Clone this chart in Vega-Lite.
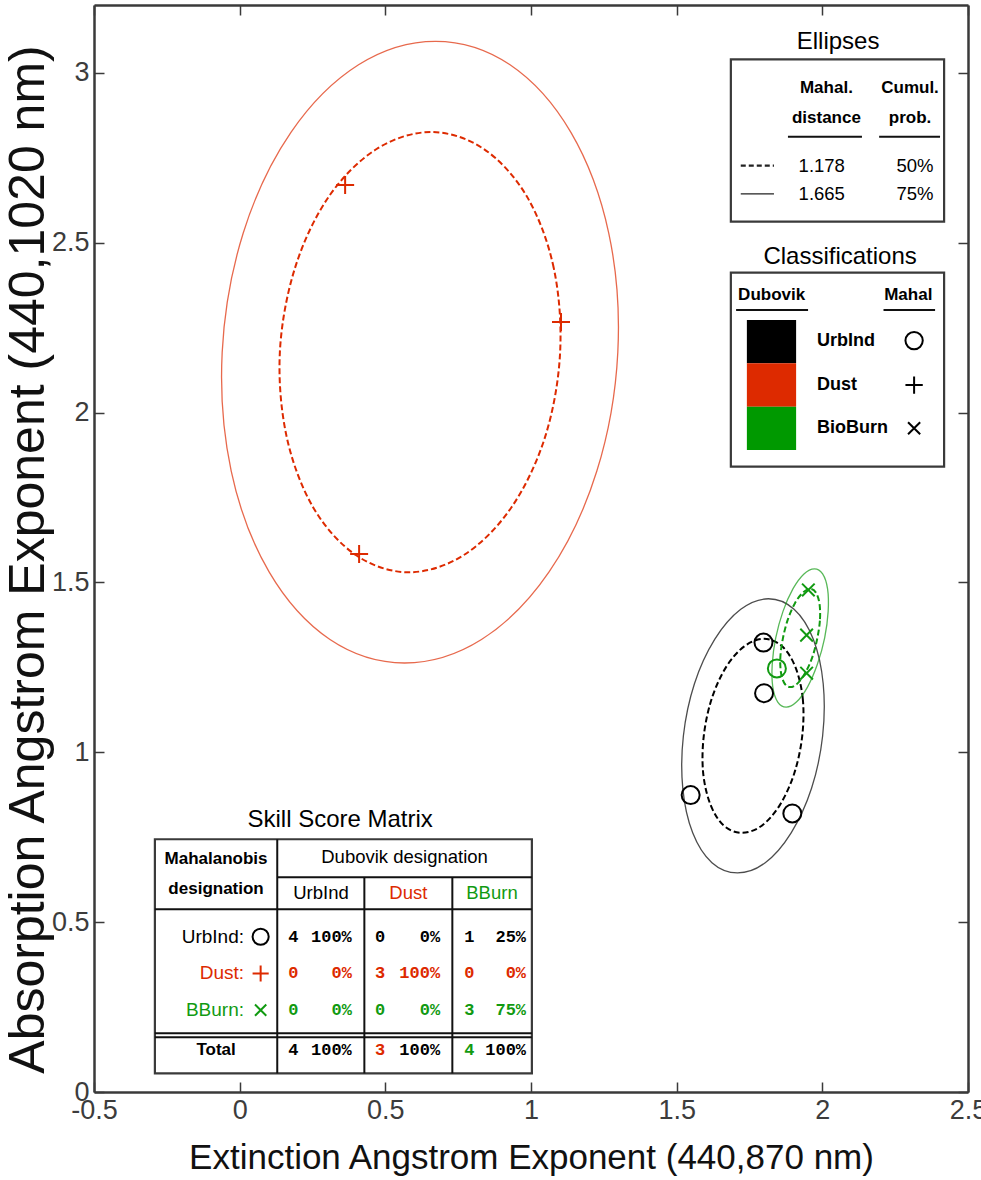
{
  "$schema": "https://vega.github.io/schema/vega-lite/v6.json",
  "width": 874,
  "height": 1087,
  "autosize": {"type": "none"},
  "padding": {"left": 94, "top": 5, "right": 13, "bottom": 88},
  "background": "white",
  "config": {
    "view": {"stroke": null},
    "font": "Liberation Sans",
    "axis": {
      "grid": false,
      "domainColor": "#3a3a3a",
      "domainWidth": 2.5,
      "tickColor": "#3a3a3a",
      "tickWidth": 1.5,
      "tickSize": -10,
      "labelFont": "Liberation Sans",
      "labelFontSize": 27,
      "labelColor": "#3c3c3c",
      "labelPadding": 15,
      "labelFlush": false,
      "labelOverlap": false,
      "titleColor": "#111111",
      "titleFontWeight": "normal"
    }
  },
  "datasets": {
    "ellipses": [
      {"cls": "Dust", "level": "50%", "k": 0, "ext": 1.100, "abs": 2.178},
      {"cls": "Dust", "level": "50%", "k": 1, "ext": 1.078, "abs": 2.426},
      {"cls": "Dust", "level": "50%", "k": 2, "ext": 0.986, "abs": 2.636},
      {"cls": "Dust", "level": "50%", "k": 3, "ext": 0.838, "abs": 2.776},
      {"cls": "Dust", "level": "50%", "k": 4, "ext": 0.657, "abs": 2.826},
      {"cls": "Dust", "level": "50%", "k": 5, "ext": 0.470, "abs": 2.776},
      {"cls": "Dust", "level": "50%", "k": 6, "ext": 0.306, "abs": 2.636},
      {"cls": "Dust", "level": "50%", "k": 7, "ext": 0.190, "abs": 2.426},
      {"cls": "Dust", "level": "50%", "k": 8, "ext": 0.138, "abs": 2.178},
      {"cls": "Dust", "level": "50%", "k": 9, "ext": 0.161, "abs": 1.930},
      {"cls": "Dust", "level": "50%", "k": 10, "ext": 0.253, "abs": 1.720},
      {"cls": "Dust", "level": "50%", "k": 11, "ext": 0.400, "abs": 1.580},
      {"cls": "Dust", "level": "50%", "k": 12, "ext": 0.581, "abs": 1.530},
      {"cls": "Dust", "level": "50%", "k": 13, "ext": 0.768, "abs": 1.580},
      {"cls": "Dust", "level": "50%", "k": 14, "ext": 0.932, "abs": 1.720},
      {"cls": "Dust", "level": "50%", "k": 15, "ext": 1.049, "abs": 1.930},
      {"cls": "Dust", "level": "75%", "k": 0, "ext": 1.298, "abs": 2.178},
      {"cls": "Dust", "level": "75%", "k": 1, "ext": 1.267, "abs": 2.528},
      {"cls": "Dust", "level": "75%", "k": 2, "ext": 1.137, "abs": 2.825},
      {"cls": "Dust", "level": "75%", "k": 3, "ext": 0.928, "abs": 3.024},
      {"cls": "Dust", "level": "75%", "k": 4, "ext": 0.672, "abs": 3.093},
      {"cls": "Dust", "level": "75%", "k": 5, "ext": 0.408, "abs": 3.024},
      {"cls": "Dust", "level": "75%", "k": 6, "ext": 0.176, "abs": 2.825},
      {"cls": "Dust", "level": "75%", "k": 7, "ext": 0.012, "abs": 2.528},
      {"cls": "Dust", "level": "75%", "k": 8, "ext": -0.060, "abs": 2.178},
      {"cls": "Dust", "level": "75%", "k": 9, "ext": -0.029, "abs": 1.828},
      {"cls": "Dust", "level": "75%", "k": 10, "ext": 0.101, "abs": 1.531},
      {"cls": "Dust", "level": "75%", "k": 11, "ext": 0.310, "abs": 1.332},
      {"cls": "Dust", "level": "75%", "k": 12, "ext": 0.566, "abs": 1.263},
      {"cls": "Dust", "level": "75%", "k": 13, "ext": 0.830, "abs": 1.332},
      {"cls": "Dust", "level": "75%", "k": 14, "ext": 1.062, "abs": 1.531},
      {"cls": "Dust", "level": "75%", "k": 15, "ext": 1.226, "abs": 1.828},
      {"cls": "UrbInd", "level": "50%", "k": 0, "ext": 1.931, "abs": 1.048},
      {"cls": "UrbInd", "level": "50%", "k": 1, "ext": 1.933, "abs": 1.157},
      {"cls": "UrbInd", "level": "50%", "k": 2, "ext": 1.908, "abs": 1.250},
      {"cls": "UrbInd", "level": "50%", "k": 3, "ext": 1.862, "abs": 1.312},
      {"cls": "UrbInd", "level": "50%", "k": 4, "ext": 1.800, "abs": 1.334},
      {"cls": "UrbInd", "level": "50%", "k": 5, "ext": 1.732, "abs": 1.312},
      {"cls": "UrbInd", "level": "50%", "k": 6, "ext": 1.669, "abs": 1.250},
      {"cls": "UrbInd", "level": "50%", "k": 7, "ext": 1.620, "abs": 1.157},
      {"cls": "UrbInd", "level": "50%", "k": 8, "ext": 1.593, "abs": 1.048},
      {"cls": "UrbInd", "level": "50%", "k": 9, "ext": 1.591, "abs": 0.939},
      {"cls": "UrbInd", "level": "50%", "k": 10, "ext": 1.616, "abs": 0.846},
      {"cls": "UrbInd", "level": "50%", "k": 11, "ext": 1.662, "abs": 0.784},
      {"cls": "UrbInd", "level": "50%", "k": 12, "ext": 1.724, "abs": 0.763},
      {"cls": "UrbInd", "level": "50%", "k": 13, "ext": 1.792, "abs": 0.784},
      {"cls": "UrbInd", "level": "50%", "k": 14, "ext": 1.855, "abs": 0.846},
      {"cls": "UrbInd", "level": "50%", "k": 15, "ext": 1.904, "abs": 0.939},
      {"cls": "UrbInd", "level": "75%", "k": 0, "ext": 2.001, "abs": 1.048},
      {"cls": "UrbInd", "level": "75%", "k": 1, "ext": 2.003, "abs": 1.202},
      {"cls": "UrbInd", "level": "75%", "k": 2, "ext": 1.969, "abs": 1.333},
      {"cls": "UrbInd", "level": "75%", "k": 3, "ext": 1.903, "abs": 1.421},
      {"cls": "UrbInd", "level": "75%", "k": 4, "ext": 1.815, "abs": 1.452},
      {"cls": "UrbInd", "level": "75%", "k": 5, "ext": 1.720, "abs": 1.421},
      {"cls": "UrbInd", "level": "75%", "k": 6, "ext": 1.631, "abs": 1.333},
      {"cls": "UrbInd", "level": "75%", "k": 7, "ext": 1.561, "abs": 1.202},
      {"cls": "UrbInd", "level": "75%", "k": 8, "ext": 1.523, "abs": 1.048},
      {"cls": "UrbInd", "level": "75%", "k": 9, "ext": 1.521, "abs": 0.894},
      {"cls": "UrbInd", "level": "75%", "k": 10, "ext": 1.555, "abs": 0.763},
      {"cls": "UrbInd", "level": "75%", "k": 11, "ext": 1.621, "abs": 0.675},
      {"cls": "UrbInd", "level": "75%", "k": 12, "ext": 1.709, "abs": 0.645},
      {"cls": "UrbInd", "level": "75%", "k": 13, "ext": 1.804, "abs": 0.675},
      {"cls": "UrbInd", "level": "75%", "k": 14, "ext": 1.893, "abs": 0.763},
      {"cls": "UrbInd", "level": "75%", "k": 15, "ext": 1.963, "abs": 0.894},
      {"cls": "BBurn", "level": "50%", "k": 0, "ext": 1.983, "abs": 1.337},
      {"cls": "BBurn", "level": "50%", "k": 1, "ext": 1.992, "abs": 1.392},
      {"cls": "BBurn", "level": "50%", "k": 2, "ext": 1.990, "abs": 1.439},
      {"cls": "BBurn", "level": "50%", "k": 3, "ext": 1.978, "abs": 1.470},
      {"cls": "BBurn", "level": "50%", "k": 4, "ext": 1.958, "abs": 1.481},
      {"cls": "BBurn", "level": "50%", "k": 5, "ext": 1.933, "abs": 1.470},
      {"cls": "BBurn", "level": "50%", "k": 6, "ext": 1.906, "abs": 1.439},
      {"cls": "BBurn", "level": "50%", "k": 7, "ext": 1.882, "abs": 1.392},
      {"cls": "BBurn", "level": "50%", "k": 8, "ext": 1.865, "abs": 1.337},
      {"cls": "BBurn", "level": "50%", "k": 9, "ext": 1.856, "abs": 1.281},
      {"cls": "BBurn", "level": "50%", "k": 10, "ext": 1.858, "abs": 1.235},
      {"cls": "BBurn", "level": "50%", "k": 11, "ext": 1.870, "abs": 1.203},
      {"cls": "BBurn", "level": "50%", "k": 12, "ext": 1.890, "abs": 1.192},
      {"cls": "BBurn", "level": "50%", "k": 13, "ext": 1.915, "abs": 1.203},
      {"cls": "BBurn", "level": "50%", "k": 14, "ext": 1.942, "abs": 1.235},
      {"cls": "BBurn", "level": "50%", "k": 15, "ext": 1.966, "abs": 1.281},
      {"cls": "BBurn", "level": "75%", "k": 0, "ext": 2.008, "abs": 1.337},
      {"cls": "BBurn", "level": "75%", "k": 1, "ext": 2.020, "abs": 1.415},
      {"cls": "BBurn", "level": "75%", "k": 2, "ext": 2.018, "abs": 1.481},
      {"cls": "BBurn", "level": "75%", "k": 3, "ext": 2.001, "abs": 1.525},
      {"cls": "BBurn", "level": "75%", "k": 4, "ext": 1.973, "abs": 1.540},
      {"cls": "BBurn", "level": "75%", "k": 5, "ext": 1.937, "abs": 1.525},
      {"cls": "BBurn", "level": "75%", "k": 6, "ext": 1.899, "abs": 1.481},
      {"cls": "BBurn", "level": "75%", "k": 7, "ext": 1.865, "abs": 1.415},
      {"cls": "BBurn", "level": "75%", "k": 8, "ext": 1.840, "abs": 1.337},
      {"cls": "BBurn", "level": "75%", "k": 9, "ext": 1.828, "abs": 1.259},
      {"cls": "BBurn", "level": "75%", "k": 10, "ext": 1.830, "abs": 1.192},
      {"cls": "BBurn", "level": "75%", "k": 11, "ext": 1.847, "abs": 1.148},
      {"cls": "BBurn", "level": "75%", "k": 12, "ext": 1.876, "abs": 1.133},
      {"cls": "BBurn", "level": "75%", "k": 13, "ext": 1.911, "abs": 1.148},
      {"cls": "BBurn", "level": "75%", "k": 14, "ext": 1.949, "abs": 1.192},
      {"cls": "BBurn", "level": "75%", "k": 15, "ext": 1.983, "abs": 1.259}
    ],
    "points": [
      {"ext": 0.362, "abs": 2.670, "mahal": "Dust", "cls": "Dust"},
      {"ext": 1.103, "abs": 2.267, "mahal": "Dust", "cls": "Dust"},
      {"ext": 0.410, "abs": 1.584, "mahal": "Dust", "cls": "Dust"},
      {"ext": 1.798, "abs": 1.323, "mahal": "UrbInd", "cls": "UrbInd"},
      {"ext": 1.800, "abs": 1.174, "mahal": "UrbInd", "cls": "UrbInd"},
      {"ext": 1.548, "abs": 0.874, "mahal": "UrbInd", "cls": "UrbInd"},
      {"ext": 1.897, "abs": 0.820, "mahal": "UrbInd", "cls": "UrbInd"},
      {"ext": 1.844, "abs": 1.247, "mahal": "UrbInd", "cls": "BBurn"},
      {"ext": 1.952, "abs": 1.478, "mahal": "BBurn", "cls": "BBurn"},
      {"ext": 1.946, "abs": 1.345, "mahal": "BBurn", "cls": "BBurn"},
      {"ext": 1.946, "abs": 1.233, "mahal": "BBurn", "cls": "BBurn"}
    ],
    "boxes": [
      {"name": "Ellipses", "x": 1.686, "x2": 2.418, "y": 3.040, "y2": 2.562},
      {"name": "Classifications", "x": 1.686, "x2": 2.418, "y": 2.412, "y2": 1.841},
      {"name": "Skill Score Matrix", "x": -0.291, "x2": 1.003, "y": 0.744, "y2": 0.055}
    ],
    "swatches": [
      {"cls": "UrbInd", "x": 1.741, "x2": 1.910, "y": 2.273, "y2": 2.145},
      {"cls": "Dust", "x": 1.741, "x2": 1.910, "y": 2.145, "y2": 2.017},
      {"cls": "BBurn", "x": 1.741, "x2": 1.910, "y": 2.017, "y2": 1.890}
    ],
    "lines": [
      {"x": 1.882, "x2": 2.136, "y": 2.812, "y2": 2.812},
      {"x": 2.195, "x2": 2.404, "y": 2.812, "y2": 2.812},
      {"x": 1.704, "x2": 1.951, "y": 2.302, "y2": 2.302},
      {"x": 2.210, "x2": 2.387, "y": 2.302, "y2": 2.302},
      {"x": 0.129, "x2": 0.129, "y": 0.744, "y2": 0.055},
      {"x": 0.129, "x2": 1.003, "y": 0.632, "y2": 0.632},
      {"x": 0.428, "x2": 0.428, "y": 0.632, "y2": 0.055},
      {"x": 0.730, "x2": 0.730, "y": 0.632, "y2": 0.055},
      {"x": -0.291, "x2": 1.003, "y": 0.538, "y2": 0.538},
      {"x": -0.291, "x2": 1.003, "y": 0.173, "y2": 0.173},
      {"x": -0.291, "x2": 1.003, "y": 0.161, "y2": 0.161}
    ],
    "samples": [
      {"level": "50%", "x": 1.720, "x2": 1.834, "y": 2.727},
      {"level": "75%", "x": 1.720, "x2": 1.834, "y": 2.644}
    ],
    "labels": [
      {"role": "title", "text": "Ellipses", "x": 2.054, "y": 3.092, "cls": "ink"},
      {"role": "title", "text": "Classifications", "x": 2.061, "y": 2.459, "cls": "ink"},
      {"role": "title", "text": "Skill Score Matrix", "x": 0.345, "y": 0.801, "cls": "ink"},
      {"role": "head", "text": "Mahal.", "x": 2.014, "y": 2.955, "cls": "ink"},
      {"role": "head", "text": "distance", "x": 2.014, "y": 2.866, "cls": "ink"},
      {"role": "head", "text": "Cumul.", "x": 2.301, "y": 2.955, "cls": "ink"},
      {"role": "head", "text": "prob.", "x": 2.301, "y": 2.866, "cls": "ink"},
      {"role": "head", "text": "Dubovik", "x": 1.826, "y": 2.346, "cls": "ink"},
      {"role": "head", "text": "Mahal", "x": 2.295, "y": 2.346, "cls": "ink"},
      {"role": "head", "text": "Mahalanobis", "x": -0.081, "y": 0.685, "cls": "ink"},
      {"role": "head", "text": "designation", "x": -0.081, "y": 0.597, "cls": "ink"},
      {"role": "head", "text": "Total", "x": -0.081, "y": 0.124, "cls": "ink"},
      {"role": "plain", "text": "Dubovik designation", "x": 0.566, "y": 0.691, "cls": "ink"},
      {"role": "plain", "text": "UrbInd", "x": 0.279, "y": 0.585, "cls": "UrbInd"},
      {"role": "plain", "text": "Dust", "x": 0.579, "y": 0.585, "cls": "Dust"},
      {"role": "plain", "text": "BBurn", "x": 0.866, "y": 0.585, "cls": "BBurn"},
      {"role": "plain", "text": "1.178", "x": 1.998, "y": 2.727, "cls": "ink"},
      {"role": "plain", "text": "50%", "x": 2.318, "y": 2.727, "cls": "ink"},
      {"role": "plain", "text": "1.665", "x": 1.998, "y": 2.644, "cls": "ink"},
      {"role": "plain", "text": "75%", "x": 2.318, "y": 2.644, "cls": "ink"},
      {"role": "class", "text": "UrbInd", "x": 1.982, "y": 2.212, "cls": "ink"},
      {"role": "class", "text": "Dust", "x": 1.982, "y": 2.081, "cls": "ink"},
      {"role": "class", "text": "BioBurn", "x": 1.982, "y": 1.954, "cls": "ink"},
      {"role": "row", "text": "UrbInd:", "x": 0.015, "y": 0.457, "cls": "UrbInd"},
      {"role": "row", "text": "Dust:", "x": 0.015, "y": 0.349, "cls": "Dust"},
      {"role": "row", "text": "BBurn:", "x": 0.015, "y": 0.241, "cls": "BBurn"}
    ],
    "cells": [
      {"count": "4", "pct": "100%", "cx": 0.184, "px": 0.385, "y": 0.457, "cls": "UrbInd", "pcls": "UrbInd"},
      {"count": "0", "pct": "0%", "cx": 0.482, "px": 0.688, "y": 0.457, "cls": "UrbInd", "pcls": "UrbInd"},
      {"count": "1", "pct": "25%", "cx": 0.788, "px": 0.983, "y": 0.457, "cls": "UrbInd", "pcls": "UrbInd"},
      {"count": "0", "pct": "0%", "cx": 0.184, "px": 0.385, "y": 0.349, "cls": "Dust", "pcls": "Dust"},
      {"count": "3", "pct": "100%", "cx": 0.482, "px": 0.688, "y": 0.349, "cls": "Dust", "pcls": "Dust"},
      {"count": "0", "pct": "0%", "cx": 0.788, "px": 0.983, "y": 0.349, "cls": "Dust", "pcls": "Dust"},
      {"count": "0", "pct": "0%", "cx": 0.184, "px": 0.385, "y": 0.241, "cls": "BBurn", "pcls": "BBurn"},
      {"count": "0", "pct": "0%", "cx": 0.482, "px": 0.688, "y": 0.241, "cls": "BBurn", "pcls": "BBurn"},
      {"count": "3", "pct": "75%", "cx": 0.788, "px": 0.983, "y": 0.241, "cls": "BBurn", "pcls": "BBurn"},
      {"count": "4", "pct": "100%", "cx": 0.184, "px": 0.385, "y": 0.124, "cls": "UrbInd", "pcls": "ink"},
      {"count": "3", "pct": "100%", "cx": 0.482, "px": 0.688, "y": 0.124, "cls": "Dust", "pcls": "ink"},
      {"count": "4", "pct": "100%", "cx": 0.788, "px": 0.983, "y": 0.124, "cls": "BBurn", "pcls": "ink"}
    ],
    "keys": [
      {"where": "legend", "x": 2.315, "y": 2.212, "mahal": "UrbInd", "cls": "ink"},
      {"where": "legend", "x": 2.315, "y": 2.081, "mahal": "Dust", "cls": "ink"},
      {"where": "legend", "x": 2.315, "y": 1.954, "mahal": "BBurn", "cls": "ink"},
      {"where": "table", "x": 0.072, "y": 0.457, "mahal": "UrbInd", "cls": "UrbInd"},
      {"where": "table", "x": 0.072, "y": 0.349, "mahal": "Dust", "cls": "Dust"},
      {"where": "table", "x": 0.072, "y": 0.241, "mahal": "BBurn", "cls": "BBurn"}
    ]
  },
  "resolve": {"axis": {"x": "independent", "y": "independent"}},
  "layer": [
    {
      "data": {"name": "ellipses"},
      "transform": [{"filter": "datum.level === '50%'"}],
      "mark": {"type": "line", "interpolate": "cardinal-closed", "strokeWidth": 2, "strokeDash": [6, 3]},
      "encoding": {
        "x": {
          "field": "ext", "type": "quantitative",
          "scale": {"domain": [-0.5, 2.5], "nice": false, "zero": false},
          "axis": {
            "orient": "bottom",
            "values": [-0.5, 0, 0.5, 1, 1.5, 2, 2.5],
            "labelExpr": "'' + datum.value",
            "title": "Extinction Angstrom Exponent (440,870 nm)",
            "titleFont": "Liberation Sans",
            "titleFontSize": 35,
            "titleY": 65,
            "titleBaseline": "middle"
          }
        },
        "y": {
          "field": "abs", "type": "quantitative",
          "scale": {"domain": [0, 3.2], "nice": false, "zero": false},
          "axis": {
            "orient": "left",
            "values": [0, 0.5, 1, 1.5, 2, 2.5, 3],
            "labelExpr": "'' + datum.value",
            "title": "Absorption Angstrom Exponent (440,1020 nm)",
            "titleFont": "Liberation Sans",
            "titleFontSize": 50,
            "titleX": -66,
            "titleY": 554,
            "titleAngle": -90,
            "titleBaseline": "middle"
          }
        },
        "detail": {"field": "cls"},
        "order": {"field": "k", "type": "quantitative"},
        "color": {
          "field": "cls", "type": "nominal",
          "scale": {"domain": ["UrbInd", "Dust", "BBurn", "ink"], "range": ["#000000", "#dd2a00", "#119a11", "#000000"]},
          "legend": null
        }
      }
    },
    {
      "data": {"name": "ellipses"},
      "transform": [{"filter": "datum.level === '75%'"}],
      "mark": {"type": "line", "interpolate": "cardinal-closed", "strokeWidth": 1.3, "opacity": 0.7},
      "encoding": {
        "x": {"field": "ext", "type": "quantitative", "axis": null},
        "y": {"field": "abs", "type": "quantitative", "axis": null},
        "detail": {"field": "cls"},
        "order": {"field": "k", "type": "quantitative"},
        "color": {"field": "cls", "type": "nominal", "legend": null}
      }
    },
    {
      "data": {"name": "points"},
      "mark": {"type": "point", "filled": false, "strokeWidth": 2, "size": 324, "opacity": 1},
      "encoding": {
        "x": {"field": "ext", "type": "quantitative", "axis": {"orient": "top", "values": [-0.5, 0, 0.5, 1, 1.5, 2, 2.5], "labels": false, "title": null}},
        "y": {"field": "abs", "type": "quantitative", "axis": {"orient": "right", "values": [0, 0.5, 1, 1.5, 2, 2.5, 3], "labels": false, "title": null}},
        "shape": {
          "field": "mahal", "type": "nominal",
          "scale": {"domain": ["UrbInd", "Dust", "BBurn"], "range": ["circle", "M-1,0L1,0M0,-1L0,1", "M-0.7,-0.7L0.7,0.7M-0.7,0.7L0.7,-0.7"]},
          "legend": null
        },
        "color": {"field": "cls", "type": "nominal", "legend": null}
      }
    },
    {
      "data": {"name": "boxes"},
      "mark": {"type": "rect", "fill": "white", "stroke": "#3a3a3a", "strokeWidth": 2.2},
      "encoding": {
        "x": {"field": "x", "type": "quantitative", "axis": null},
        "x2": {"field": "x2"},
        "y": {"field": "y", "type": "quantitative", "axis": null},
        "y2": {"field": "y2"}
      }
    },
    {
      "data": {"name": "swatches"},
      "mark": {"type": "rect"},
      "encoding": {
        "x": {"field": "x", "type": "quantitative", "axis": null},
        "x2": {"field": "x2"},
        "y": {"field": "y", "type": "quantitative", "axis": null},
        "y2": {"field": "y2"},
        "fill": {"field": "cls", "type": "nominal", "scale": {"domain": ["UrbInd", "Dust", "BBurn"], "range": ["#000000", "#dd2a00", "#009900"]}, "legend": null}
      }
    },
    {
      "data": {"name": "lines"},
      "mark": {"type": "rule", "color": "#111111", "strokeWidth": 2},
      "encoding": {
        "x": {"field": "x", "type": "quantitative", "axis": null},
        "x2": {"field": "x2"},
        "y": {"field": "y", "type": "quantitative", "axis": null},
        "y2": {"field": "y2"}
      }
    },
    {
      "data": {"name": "samples"},
      "mark": {"type": "rule", "color": "#222222"},
      "encoding": {
        "x": {"field": "x", "type": "quantitative", "axis": null},
        "x2": {"field": "x2"},
        "y": {"field": "y", "type": "quantitative", "axis": null},
        "strokeDash": {"field": "level", "type": "nominal", "scale": {"domain": ["50%", "75%"], "range": [[5, 3], [1, 0]]}, "legend": null},
        "strokeWidth": {"field": "level", "type": "ordinal", "scale": {"domain": ["50%", "75%"], "range": [2.2, 1.2]}, "legend": null}
      }
    },
    {
      "data": {"name": "labels"},
      "transform": [{"filter": "datum.role === 'title'"}],
      "mark": {"type": "text", "font": "Liberation Sans", "fontSize": 24, "baseline": "middle", "align": "center"},
      "encoding": {
        "x": {"field": "x", "type": "quantitative", "axis": null},
        "y": {"field": "y", "type": "quantitative", "axis": null},
        "text": {"field": "text"},
        "color": {"field": "cls", "type": "nominal", "legend": null}
      }
    },
    {
      "data": {"name": "labels"},
      "transform": [{"filter": "datum.role === 'head'"}],
      "mark": {"type": "text", "font": "Liberation Sans", "fontSize": 17, "fontWeight": "bold", "baseline": "middle", "align": "center"},
      "encoding": {
        "x": {"field": "x", "type": "quantitative", "axis": null},
        "y": {"field": "y", "type": "quantitative", "axis": null},
        "text": {"field": "text"},
        "color": {"field": "cls", "type": "nominal", "legend": null}
      }
    },
    {
      "data": {"name": "labels"},
      "transform": [{"filter": "datum.role === 'plain'"}],
      "mark": {"type": "text", "font": "Liberation Sans", "fontSize": 18.5, "baseline": "middle", "align": "center"},
      "encoding": {
        "x": {"field": "x", "type": "quantitative", "axis": null},
        "y": {"field": "y", "type": "quantitative", "axis": null},
        "text": {"field": "text"},
        "color": {"field": "cls", "type": "nominal", "legend": null}
      }
    },
    {
      "data": {"name": "labels"},
      "transform": [{"filter": "datum.role === 'class'"}],
      "mark": {"type": "text", "font": "Liberation Sans", "fontSize": 18, "fontWeight": "bold", "baseline": "middle", "align": "left"},
      "encoding": {
        "x": {"field": "x", "type": "quantitative", "axis": null},
        "y": {"field": "y", "type": "quantitative", "axis": null},
        "text": {"field": "text"},
        "color": {"field": "cls", "type": "nominal", "legend": null}
      }
    },
    {
      "data": {"name": "labels"},
      "transform": [{"filter": "datum.role === 'row'"}],
      "mark": {"type": "text", "font": "Liberation Sans", "fontSize": 19, "baseline": "middle", "align": "right"},
      "encoding": {
        "x": {"field": "x", "type": "quantitative", "axis": null},
        "y": {"field": "y", "type": "quantitative", "axis": null},
        "text": {"field": "text"},
        "color": {"field": "cls", "type": "nominal", "legend": null}
      }
    },
    {
      "data": {"name": "cells"},
      "mark": {"type": "text", "font": "Liberation Mono", "fontSize": 17, "fontWeight": "bold", "baseline": "middle", "align": "center"},
      "encoding": {
        "x": {"field": "cx", "type": "quantitative", "axis": null},
        "y": {"field": "y", "type": "quantitative", "axis": null},
        "text": {"field": "count"},
        "color": {"field": "cls", "type": "nominal", "legend": null}
      }
    },
    {
      "data": {"name": "cells"},
      "mark": {"type": "text", "font": "Liberation Mono", "fontSize": 17, "fontWeight": "bold", "baseline": "middle", "align": "right"},
      "encoding": {
        "x": {"field": "px", "type": "quantitative", "axis": null},
        "y": {"field": "y", "type": "quantitative", "axis": null},
        "text": {"field": "pct"},
        "color": {"field": "pcls", "type": "nominal", "legend": null}
      }
    },
    {
      "data": {"name": "keys"},
      "transform": [{"filter": "datum.where === 'legend'"}],
      "mark": {"type": "point", "filled": false, "strokeWidth": 2, "size": 300, "opacity": 1},
      "encoding": {
        "x": {"field": "x", "type": "quantitative", "axis": null},
        "y": {"field": "y", "type": "quantitative", "axis": null},
        "shape": {"field": "mahal", "type": "nominal", "legend": null},
        "color": {"field": "cls", "type": "nominal", "legend": null}
      }
    },
    {
      "data": {"name": "keys"},
      "transform": [{"filter": "datum.where === 'table'"}],
      "mark": {"type": "point", "filled": false, "strokeWidth": 2, "size": 260, "opacity": 1},
      "encoding": {
        "x": {"field": "x", "type": "quantitative", "axis": null},
        "y": {"field": "y", "type": "quantitative", "axis": null},
        "shape": {"field": "mahal", "type": "nominal", "legend": null},
        "color": {"field": "cls", "type": "nominal", "legend": null}
      }
    }
  ]
}
